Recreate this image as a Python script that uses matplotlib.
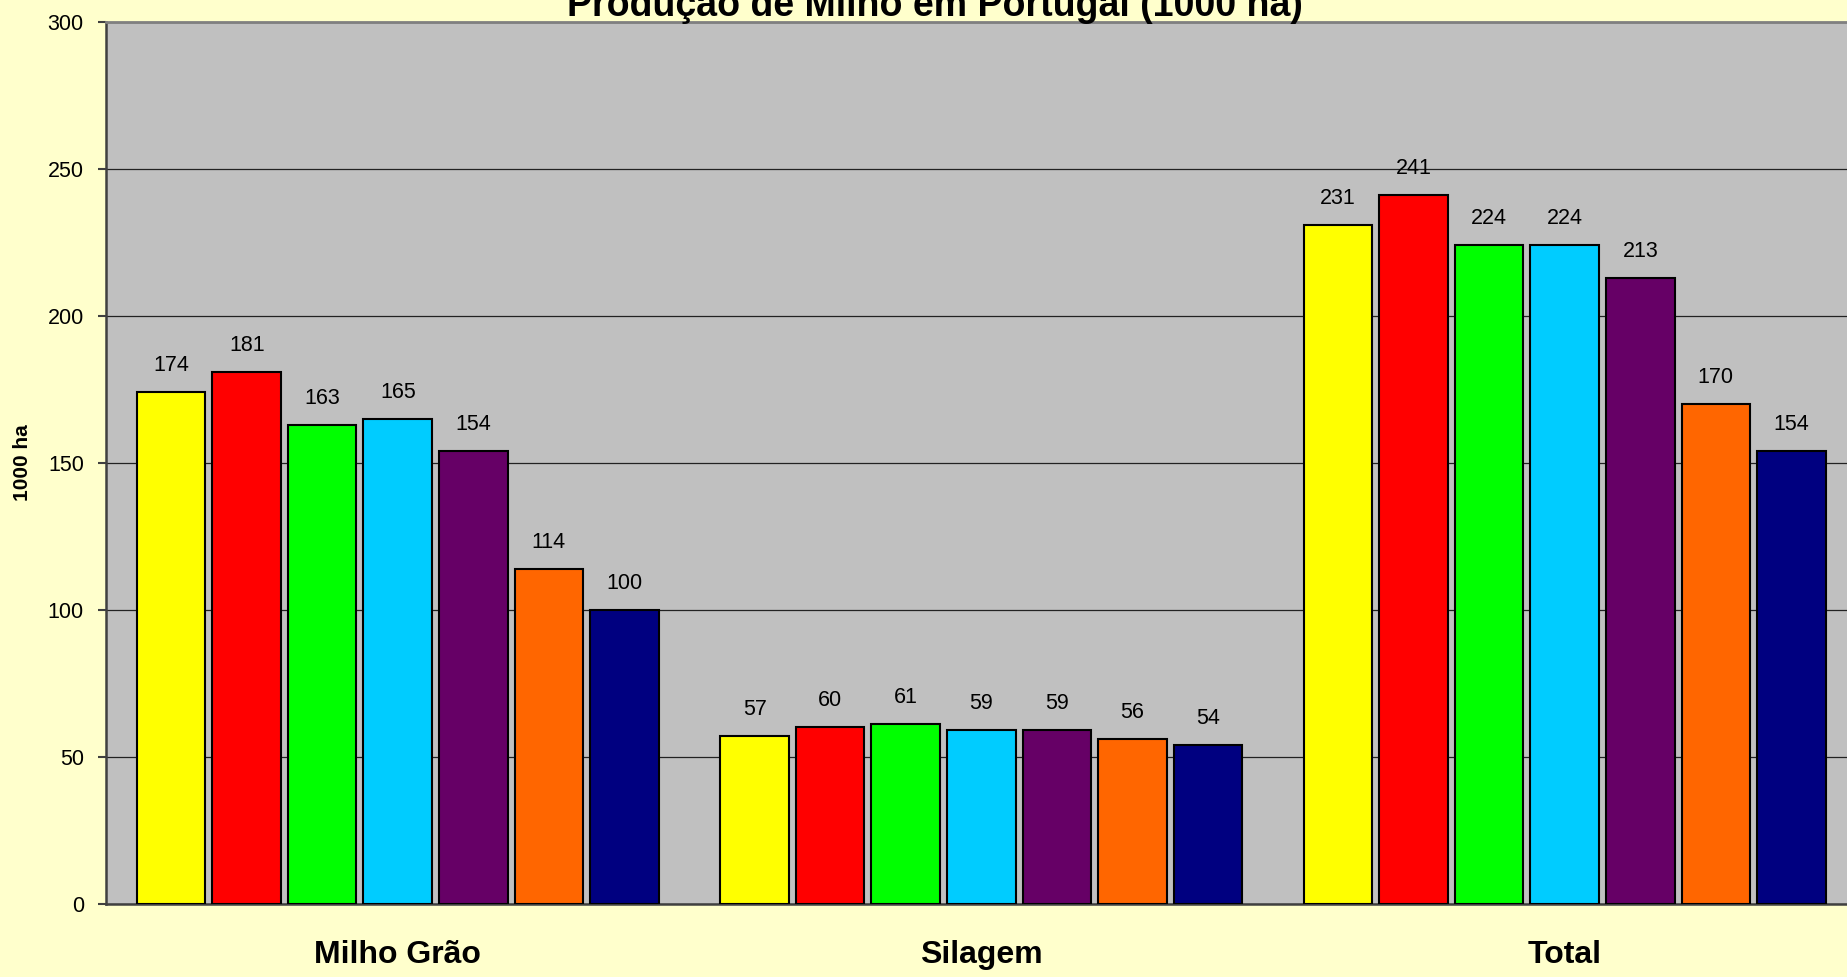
import numpy as np
import matplotlib
matplotlib.use("Agg")
import matplotlib.pyplot as plt

plt.rcParams['font.family'] = ['Liberation Sans', 'DejaVu Sans']

categories = ['Milho Grão', 'Silagem', 'Total']
series_names = ['S1', 'S2', 'S3', 'S4', 'S5', 'S6', 'S7']
values = [
    [174, 57, 231],
    [181, 60, 241],
    [163, 61, 224],
    [165, 59, 224],
    [154, 59, 213],
    [114, 56, 170],
    [100, 54, 154],
]
colors = ['#FFFF00', '#FF0000', '#00FF00', '#00CCFF', '#660066', '#FF6600', '#000080']
yticks = [0, 50, 100, 150, 200, 250, 300]

fig = plt.figure(figsize=(18.47, 9.77), dpi=100, facecolor='#FFFFCC')
ax = fig.add_axes([106 / 1847, 73.5 / 977, 1750.5 / 1847, 881.5 / 977])
ax.set_facecolor('#C0C0C0')

x = np.arange(len(categories))
pitch = 0.1294
width = 0.1174
for i, (name, vals, c) in enumerate(zip(series_names, values, colors)):
    pos = x + (i - 3) * pitch
    bars = ax.bar(pos, vals, width, color=c, edgecolor='black', linewidth=1.5,
                  label=name, zorder=3)
    for b, v in zip(bars, vals):
        ax.annotate(str(v), (b.get_x() + b.get_width() / 2, v),
                    xytext=(0, 11.5), textcoords='offset points',
                    ha='center', va='bottom', fontsize=15.5, color='black')

ax.set_xlim(-0.5, 2.5)
ax.set_ylim(0, 300)
ax.set_yticks(yticks)
ax.set_yticklabels([str(t) for t in yticks], fontsize=15.5)
ax.yaxis.grid(True, color='#222222', linewidth=0.9, zorder=0)
ax.set_axisbelow(True)

ax.set_xticks(x)
ax.set_xticklabels(categories, fontsize=23, fontweight='bold')
ax.tick_params(axis='x', length=0, pad=26)
ax.tick_params(axis='y', length=6, width=1.5, color='#404040', pad=10, direction='out')

for s in ['left', 'bottom']:
    ax.spines[s].set_color('#404040')
    ax.spines[s].set_linewidth(1.8)
ax.spines['top'].set_color('#808080')
ax.spines['top'].set_linewidth(2)
ax.spines['right'].set_visible(False)

ax.set_ylabel('1000 ha', fontsize=15, fontweight='bold', labelpad=10)
ax.yaxis.set_label_coords(-74 / 1750.5, 0.5)

fig.text(0.506, 1 - 16 / 977, 'Produção de Milho em Portugal (1000 ha)',
         ha='center', va='baseline', fontsize=27, fontweight='bold')

fig.savefig('out.png', dpi=100, facecolor=fig.get_facecolor())
